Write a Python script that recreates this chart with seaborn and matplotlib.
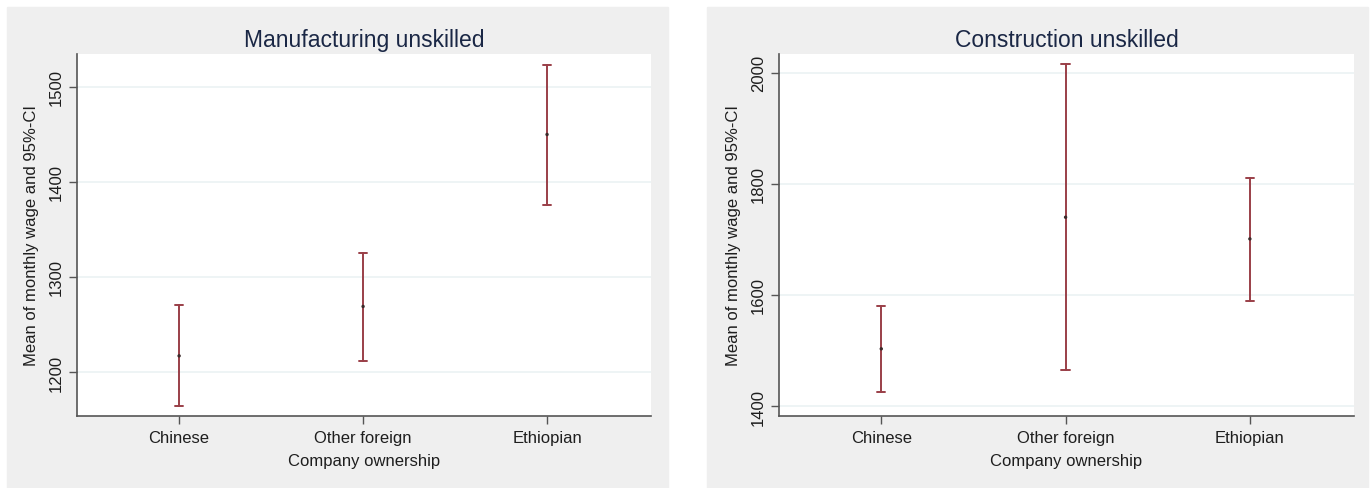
import matplotlib
matplotlib.use("Agg")
import matplotlib.pyplot as plt
import seaborn as sns
import pandas as pd
from matplotlib.patches import Rectangle

sns.set_theme(style="white")
plt.rcParams['font.family'] = ['Liberation Sans', 'DejaVu Sans']

categories = ["Chinese", "Other foreign", "Ethiopian"]

manu_mean = [1217, 1269, 1450]
manu_low = [1164, 1212, 1376]
manu_high = [1270, 1325, 1523]

cons_mean = [1503, 1740, 1701]
cons_low = [1425, 1465, 1589]
cons_high = [1580, 2016, 1811]

titles = ["Manufacturing unskilled", "Construction unskilled"]
ylabel = "Mean of monthly wage and 95%-CI"
xlabel = "Company ownership"

manu_ticks = [1200, 1300, 1400, 1500]
cons_ticks = [1400, 1600, 1800, 2000]


def long_frame(low, mean, high):
    rows = []
    for c, lo, m, hi in zip(categories, low, mean, high):
        for v in (lo, m, hi):
            rows.append({"cat": c, "val": v})
    return pd.DataFrame(rows)


W, H = 1370, 489
fig = plt.figure(figsize=(W / 100, H / 100), dpi=100, facecolor="white")

panel_color = "#efefef"
bar_color = "#9a3f48"
grid_color = "#edf3f4"
title_color = "#1a2745"
text_color = "#1e1e1e"

# panel backgrounds
for x0, x1 in [(7, 668), (707, 1368)]:
    fig.patches.append(Rectangle((x0 / W, 0), (x1 - x0) / W, (H - 8) / H,
                                 transform=fig.transFigure, color=panel_color,
                                 zorder=-10))

specs = [
    dict(left=77, right=651, low=manu_low, mean=manu_mean, high=manu_high,
         ticks=manu_ticks, ylim=(1153.7, 1534.7), title=titles[0]),
    dict(left=779, right=1354, low=cons_low, mean=cons_mean, high=cons_high,
         ticks=cons_ticks, ylim=(1382, 2034), title=titles[1]),
]

top, bottom = 55, 417
for s in specs:
    ax = fig.add_axes([s["left"] / W, 1 - bottom / H,
                       (s["right"] - s["left"]) / W, (bottom - top) / H])
    ax.set_facecolor("white")
    df = long_frame(s["low"], s["mean"], s["high"])
    sns.pointplot(data=df, x="cat", y="val", order=categories,
                  estimator="median", errorbar=("pi", 100),
                  color=bar_color, linestyle="none", marker="",
                  capsize=0.045, err_kws={"linewidth": 1.4}, ax=ax)
    means = pd.DataFrame({"cat": categories, "val": s["mean"]})
    sns.scatterplot(data=means, x="cat", y="val", color="#3a2a2a", s=6,
                    edgecolor="none", ax=ax, zorder=5)
    ax.set_xlim(-0.555, 2.565)
    ax.set_ylim(*s["ylim"])
    ax.set_yticks(s["ticks"])
    ax.set_yticklabels([str(t) for t in s["ticks"]], rotation=90, va="center",
                       fontsize=12, color=text_color)
    ax.set_xticks(range(len(categories)))
    ax.set_xticklabels(categories, fontsize=12, color=text_color)
    ax.yaxis.grid(True, color=grid_color, linewidth=1.3)
    ax.xaxis.grid(False)
    ax.set_axisbelow(True)
    for side in ["top", "right"]:
        ax.spines[side].set_visible(False)
    for side in ["left", "bottom"]:
        ax.spines[side].set_color("#555555")
        ax.spines[side].set_linewidth(1.2)
    ax.tick_params(axis="y", which="major", direction="out", length=6,
                   width=1, color="#555555", left=True, pad=3.5)
    ax.tick_params(axis="x", which="major", direction="out", length=6,
                   width=1, color="#555555", bottom=True, pad=4)
    ax.set_xlabel(xlabel, fontsize=12, color=text_color, labelpad=6)
    ax.set_ylabel(ylabel, fontsize=12, color=text_color, labelpad=7)
    ax.set_title(s["title"], fontsize=16.5, color=title_color, pad=6)

fig.savefig("out.png", dpi=100, facecolor="white")
